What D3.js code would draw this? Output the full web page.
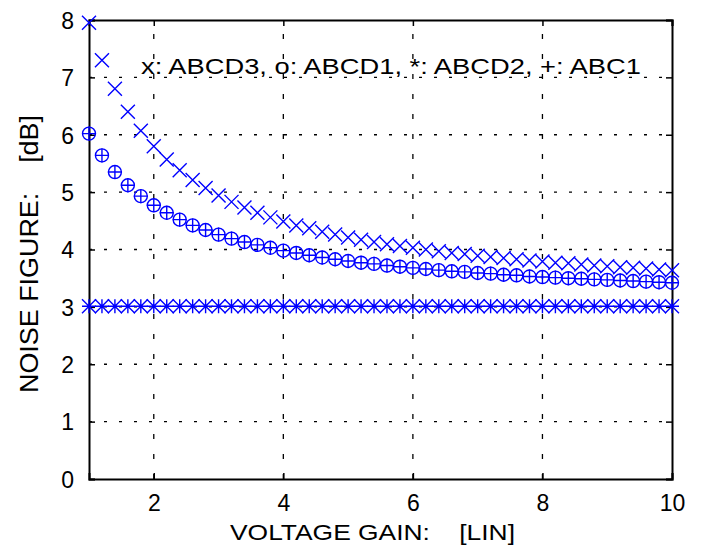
<!DOCTYPE html>
<html>
<head>
<meta charset="utf-8">
<script src="https://cdn.jsdelivr.net/npm/d3@7"></script>
<style>
  body { margin: 0; background: #fff; }
  text { font-family: "Liberation Sans", Arial, sans-serif; fill: #000; }
</style>
</head>
<body>
<div id="chart"></div>
<script>
// voltage gain points (linear)
var gain = [1.0, 1.2, 1.4, 1.6, 1.8, 2.0, 2.2, 2.4, 2.6, 2.8,
            3.0, 3.2, 3.4, 3.6, 3.8, 4.0, 4.2, 4.4, 4.6, 4.8,
            5.0, 5.2, 5.4, 5.6, 5.8, 6.0, 6.2, 6.4, 6.6, 6.8,
            7.0, 7.2, 7.4, 7.6, 7.8, 8.0, 8.2, 8.4, 8.6, 8.8,
            9.0, 9.2, 9.4, 9.6, 9.8, 10.0];

// noise figure [dB]
var abcd3 = [7.95, 7.30, 6.80, 6.40, 6.07, 5.80, 5.57, 5.38, 5.21, 5.07,
             4.94, 4.83, 4.73, 4.64, 4.56, 4.49, 4.42, 4.37, 4.31, 4.26,
             4.21, 4.17, 4.13, 4.09, 4.06, 4.03, 4.00, 3.97, 3.94, 3.92,
             3.89, 3.87, 3.85, 3.83, 3.81, 3.79, 3.77, 3.76, 3.74, 3.72,
             3.71, 3.69, 3.68, 3.67, 3.65, 3.64];

var abcd1 = [6.02, 5.64, 5.35, 5.12, 4.93, 4.77, 4.64, 4.52, 4.42, 4.34,
             4.26, 4.19, 4.13, 4.08, 4.03, 3.98, 3.94, 3.90, 3.86, 3.83,
             3.80, 3.77, 3.75, 3.72, 3.70, 3.68, 3.66, 3.64, 3.62, 3.61,
             3.59, 3.58, 3.56, 3.55, 3.53, 3.52, 3.51, 3.50, 3.49, 3.48,
             3.47, 3.46, 3.45, 3.44, 3.43, 3.42];

var abcd2 = [3.01, 3.01, 3.01, 3.01, 3.01, 3.01, 3.01, 3.01, 3.01, 3.01,
             3.01, 3.01, 3.01, 3.01, 3.01, 3.01, 3.01, 3.01, 3.01, 3.01,
             3.01, 3.01, 3.01, 3.01, 3.01, 3.01, 3.01, 3.01, 3.01, 3.01,
             3.01, 3.01, 3.01, 3.01, 3.01, 3.01, 3.01, 3.01, 3.01, 3.01,
             3.01, 3.01, 3.01, 3.01, 3.01, 3.01];

var abc1 = [6.02, 5.64, 5.35, 5.12, 4.93, 4.77, 4.64, 4.52, 4.42, 4.34,
            4.26, 4.19, 4.13, 4.08, 4.03, 3.98, 3.94, 3.90, 3.86, 3.83,
            3.80, 3.77, 3.75, 3.72, 3.70, 3.68, 3.66, 3.64, 3.62, 3.61,
            3.59, 3.58, 3.56, 3.55, 3.53, 3.52, 3.51, 3.50, 3.49, 3.48,
            3.47, 3.46, 3.45, 3.44, 3.43, 3.42];

var xTicks = [2, 4, 6, 8, 10];
var yTicks = [0, 1, 2, 3, 4, 5, 6, 7, 8];
var legendText = "x: ABCD3, o: ABCD1, *: ABCD2, +: ABC1";

var W = 713, H = 546;
var margin = {top: 20, right: 41, bottom: 67, left: 89},
    width = W - margin.left - margin.right,
    height = H - margin.top - margin.bottom;

var svg = d3.select("#chart")
  .append("svg")
    .attr("width", W)
    .attr("height", H)
  .append("g")
    .attr("transform", "translate(" + margin.left + "," + margin.top + ")");

var x = d3.scaleLinear().domain([1, 10]).range([0, width]);
var y = d3.scaleLinear().domain([0, 8]).range([height, 0]);

// dotted grid
svg.append("g").selectAll("line")
  .data(xTicks.filter(function (d) { return d < 10; }))
  .enter().append("line")
    .attr("x1", function (d) { return x(d); })
    .attr("x2", function (d) { return x(d); })
    .attr("y1", height).attr("y2", 0)
    .attr("stroke", "#000")
    .attr("stroke-width", 1.3)
    .attr("stroke-dasharray", "5,15");

svg.append("g").selectAll("line")
  .data(yTicks.filter(function (d) { return d > 0 && d < 8; }))
  .enter().append("line")
    .attr("x1", 0).attr("x2", width)
    .attr("y1", function (d) { return y(d); })
    .attr("y2", function (d) { return y(d); })
    .attr("stroke", "#000")
    .attr("stroke-width", 1.3)
    .attr("stroke-dasharray", "3,12");

// axes box with inward ticks
var axB = svg.append("g").attr("transform", "translate(0," + height + ")")
  .call(d3.axisBottom(x).tickValues(xTicks).tickSize(-6).tickPadding(16).tickFormat(d3.format("d")));
var axT = svg.append("g")
  .call(d3.axisTop(x).tickValues(xTicks).tickSize(-6).tickFormat(""));
var axL = svg.append("g")
  .call(d3.axisLeft(y).tickValues(yTicks).tickSize(-6).tickPadding(15).tickFormat(d3.format("d")));
var axR = svg.append("g").attr("transform", "translate(" + width + ",0)")
  .call(d3.axisRight(y).tickValues(yTicks).tickSize(-6).tickFormat(""));

[axB, axT, axL, axR].forEach(function (a) {
  a.select(".domain").attr("stroke", "#000").attr("stroke-width", 2);
  a.selectAll(".tick line").attr("stroke", "#000").attr("stroke-width", 1.5);
  a.selectAll("text")
    .style("font-family", "'Liberation Sans', Arial, sans-serif")
    .style("font-size", "23px")
    .attr("fill", "#000");
});
axB.selectAll("text").attr("dy", "0.71em");
axL.selectAll("text").attr("dy", "0.36em");

// markers
var S = 7;
var markerPath = {
  x: function (cx, cy) {
    return "M" + (cx - S) + "," + (cy - S) + "L" + (cx + S) + "," + (cy + S) +
           "M" + (cx - S) + "," + (cy + S) + "L" + (cx + S) + "," + (cy - S);
  },
  plus: function (cx, cy) {
    return "M" + (cx - S) + "," + cy + "L" + (cx + S) + "," + cy +
           "M" + cx + "," + (cy - S) + "L" + cx + "," + (cy + S);
  },
  star: function (cx, cy) {
    return markerPath.x(cx, cy) + markerPath.plus(cx, cy);
  }
};

function drawSeries(vals, type) {
  var g = svg.append("g");
  var pts = vals.map(function (v, i) { return {g: gain[i], v: v}; });
  if (type === "circle") {
    g.selectAll("circle").data(pts).enter().append("circle")
      .attr("cx", function (d) { return x(d.g); })
      .attr("cy", function (d) { return y(d.v); })
      .attr("r", 6.5)
      .attr("fill", "none")
      .attr("stroke", "#0000ff")
      .attr("stroke-width", 1.4);
  } else {
    g.selectAll("path").data(pts).enter().append("path")
      .attr("d", function (d) { return markerPath[type](x(d.g), y(d.v)); })
      .attr("fill", "none")
      .attr("stroke", "#0000ff")
      .attr("stroke-width", 1.4);
  }
}

drawSeries(abcd3, "x");
drawSeries(abcd1, "circle");
drawSeries(abcd2, "star");
drawSeries(abc1, "plus");

// legend text (the original figure is stretched sideways)
svg.append("text")
  .attr("x", 141 - margin.left)
  .attr("y", 74 - margin.top)
  .style("font-size", "22px")
  .attr("textLength", 500)
  .attr("lengthAdjust", "spacingAndGlyphs")
  .text(legendText);

// axis titles
svg.append("text")
  .attr("x", 230 - margin.left)
  .attr("y", height + 61)
  .style("font-size", "22px")
  .style("white-space", "pre")
  .attr("textLength", 285)
  .attr("lengthAdjust", "spacingAndGlyphs")
  .text("VOLTAGE GAIN:    [LIN]");

svg.append("text")
  .attr("transform", "translate(" + (38 - margin.left) + "," + (393 - margin.top) + ") rotate(-90) scale(1,1.2)")
  .style("font-size", "22px")
  .style("white-space", "pre")
  .attr("textLength", 278)
  .attr("lengthAdjust", "spacingAndGlyphs")
  .text("NOISE FIGURE:    [dB]");
</script>
</body>
</html>
